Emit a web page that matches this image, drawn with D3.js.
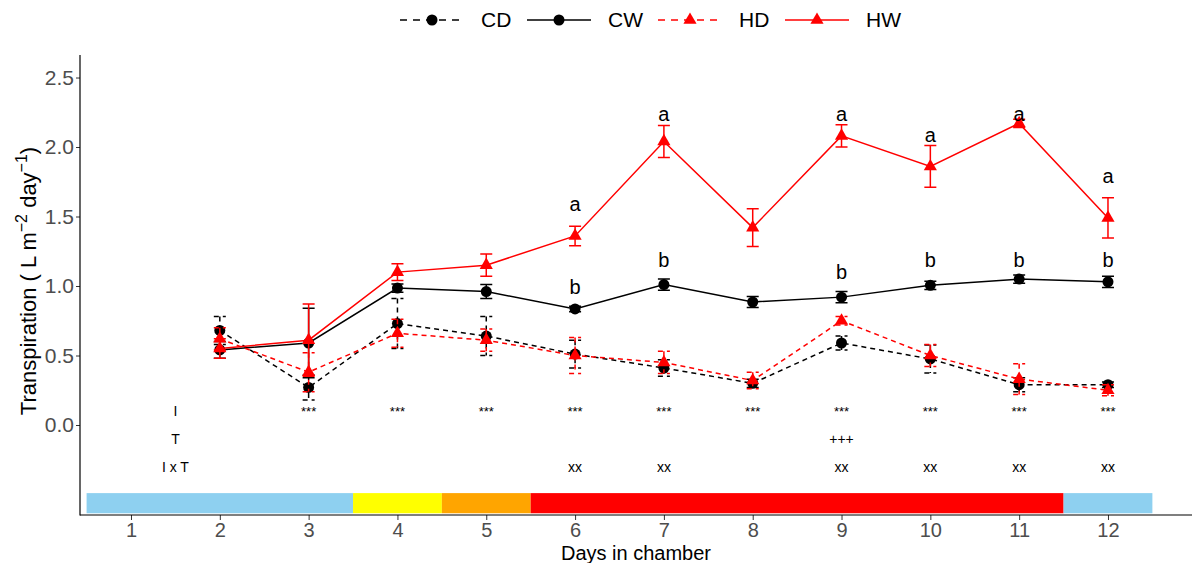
<!DOCTYPE html>
<html><head><meta charset="utf-8">
<script src="https://cdn.jsdelivr.net/npm/d3@7"></script>
<style>body{margin:0;background:#fff}svg{display:block;font-family:"Liberation Sans",Arial,sans-serif}</style>
</head><body><svg id="c" width="1194" height="563"></svg>
<script>
const days = [2,3,4,5,6,7,8,9,10,11,12];
const seriesNames = ["CD","CW","HD","HW"];
const CD = [0.68,0.27,0.73,0.64,0.51,0.41,0.30,0.59,0.475,0.29,0.29];
const CDse = [0.10,0.09,0.18,0.14,0.10,0.06,0.03,0.05,0.10,0.05,0.02];
const CW = [0.54,0.59,0.985,0.96,0.835,1.01,0.885,0.92,1.005,1.05,1.03];
const CWse = [0.06,0.25,0.03,0.05,0.02,0.04,0.04,0.04,0.03,0.03,0.04];
const HD = [0.62,0.38,0.66,0.61,0.50,0.45,0.32,0.75,0.50,0.33,0.25];
const HDse = [0.08,0.14,0.10,0.08,0.13,0.08,0.06,0.03,0.08,0.11,0.04];
const HW = [0.55,0.61,1.10,1.15,1.36,2.04,1.42,2.08,1.86,2.17,1.49];
const HWse = [0.07,0.26,0.06,0.08,0.07,0.115,0.135,0.08,0.15,0.03,0.145];
const letterDays = [6,7,9,10,11,12];
const letterA = [1.59,2.24,2.24,2.09,2.24,1.79];
const letterB = [0.99,1.19,1.10,1.19,1.19,1.19];
const sigDays = [3,4,5,6,7,8,9,10,11,12];
const tDays = [9];
const ixtDays = [6,7,9,10,11,12];
const rowLabels = ["I","T","I x T"];
const rowValues = [0.1,-0.1,-0.3];
const phaseStart = [0.5,3.5,4.5,5.5,11.5];
const phaseEnd = [3.5,4.5,5.5,11.5,12.5];
const phaseColors = ["#8ED0F0","#FFFF00","#FFA500","#FF0000","#8ED0F0"];
const yTicks = [0,0.5,1,1.5,2,2.5];
const xTicks = [1,2,3,4,5,6,7,8,9,10,11,12];

const svg = d3.select("#c");
const L=80,R=1192,T=55,B=515;
const x = d3.scaleLinear().domain([0.4258,12.946]).range([L,R]);
const y = d3.scaleLinear().domain([-0.6475,2.662]).range([B,T]);

// phase bar
svg.append("g").selectAll("rect").data(phaseStart).join("rect")
  .attr("x",(d)=>x(d)).attr("width",(d,i)=>x(phaseEnd[i])-x(d))
  .attr("y",y(-0.49)).attr("height",y(-0.635)-y(-0.49))
  .attr("fill",(d,i)=>phaseColors[i]);

const styles = {
  CD:{v:CD,se:CDse,color:"#000",dash:"5,4",shape:"circle"},
  CW:{v:CW,se:CWse,color:"#000",dash:null,shape:"circle"},
  HD:{v:HD,se:HDse,color:"#FF0000",dash:"5,4",shape:"tri"},
  HW:{v:HW,se:HWse,color:"#FF0000",dash:null,shape:"tri"}
};
const line = d3.line().x(d=>x(d[0])).y(d=>y(d[1]));
const triPath = d3.symbol().type(d3.symbolTriangle).size(75)();

seriesNames.forEach(name=>{
  const s = styles[name];
  const g = svg.append("g");
  const pts = days.map((d,i)=>[d,s.v[i],s.se[i]]);
  pts.forEach(p=>{
    const cx=x(p[0]), y1=y(p[1]+p[2]), y2=y(p[1]-p[2]);
    g.append("path").attr("d",`M${cx-6},${y1}H${cx+6}M${cx},${y1}V${y2}M${cx-6},${y2}H${cx+6}`)
      .attr("fill","none").attr("stroke",s.color).attr("stroke-width",1.5)
      .attr("stroke-dasharray",s.dash);
  });
  g.append("path").datum(pts).attr("d",line).attr("fill","none")
    .attr("stroke",s.color).attr("stroke-width",1.5).attr("stroke-dasharray",s.dash);
  pts.forEach(p=>{
    if(s.shape==="circle") g.append("circle").attr("cx",x(p[0])).attr("cy",y(p[1])).attr("r",5.5).attr("fill",s.color);
    else g.append("path").attr("d",triPath).attr("transform",`translate(${x(p[0])},${y(p[1])})`).attr("fill",s.color);
  });
});

// letters
const lg = svg.append("g").attr("font-size",20).attr("text-anchor","middle").attr("fill","#000");
letterDays.forEach((d,i)=>{
  lg.append("text").attr("x",x(d)).attr("y",y(letterA[i])).attr("dy","0.35em").text("a");
  lg.append("text").attr("x",x(d)).attr("y",y(letterB[i])).attr("dy","0.35em").text("b");
});

// significance rows
const sg = svg.append("g").attr("text-anchor","middle").attr("fill","#000");
rowLabels.forEach((t,i)=>{
  sg.append("text").attr("x",x(1.5)).attr("y",y(rowValues[i])).attr("dy","0.35em").attr("font-size",14).text(t);
});
sigDays.forEach(d=>sg.append("text").attr("x",x(d)).attr("y",y(rowValues[0])).attr("dy","0.4em").attr("font-size",13).text("***"));
tDays.forEach(d=>sg.append("text").attr("x",x(d)).attr("y",y(rowValues[1])).attr("dy","0.35em").attr("font-size",14).text("+++"));
ixtDays.forEach(d=>sg.append("text").attr("x",x(d)).attr("y",y(rowValues[2])).attr("dy","0.35em").attr("font-size",14).text("xx"));

// axes
const ax = svg.append("g").attr("transform",`translate(0,${B})`)
  .call(d3.axisBottom(x).tickValues(xTicks).tickFormat(d3.format("d")).tickSize(5).tickPadding(3));
ax.select(".domain").remove();
ax.selectAll("text").attr("font-size",20).attr("fill","#4D4D4D").attr("font-family","Liberation Sans, Arial");
ax.selectAll("line").attr("stroke","#333");
const ay = svg.append("g").attr("transform",`translate(${L},0)`)
  .call(d3.axisLeft(y).tickValues(yTicks).tickFormat(d3.format(".1f")).tickSize(4).tickPadding(2));
ay.select(".domain").remove();
ay.selectAll("text").attr("font-size",21).attr("fill","#4D4D4D").attr("font-family","Liberation Sans, Arial");
ay.selectAll("line").attr("stroke","#333");
svg.append("line").attr("x1",L).attr("x2",L).attr("y1",T).attr("y2",B+0.5).attr("stroke","#000").attr("stroke-width",1.2);
svg.append("line").attr("x1",L).attr("x2",R).attr("y1",B).attr("y2",B).attr("stroke","#000").attr("stroke-width",1.2);

// axis titles
svg.append("text").attr("x",(L+R)/2).attr("y",560).attr("text-anchor","middle").attr("font-size",20).text("Days in chamber");
const yt = svg.append("text").attr("transform",`translate(36,281) rotate(-90)`).attr("text-anchor","middle").attr("font-size",22);
yt.append("tspan").text("Transpiration ( L m");
yt.append("tspan").attr("font-size",16).attr("dy",-9).text("\u22122");
yt.append("tspan").attr("dy",9).text(" day");
yt.append("tspan").attr("font-size",16).attr("dy",-9).text("\u22121");
yt.append("tspan").attr("dy",9).text(")");

// legend
const legX = [400,527,658,785];
const leg = svg.append("g");
seriesNames.forEach((n,i)=>{
  const s = styles[n], x0 = legX[i], ly = 20;
  leg.append("line").attr("x1",x0).attr("x2",x0+64).attr("y1",ly).attr("y2",ly)
    .attr("stroke",s.color).attr("stroke-width",1.5).attr("stroke-dasharray",s.dash?"7,6":null);
  if(s.shape==="circle") leg.append("circle").attr("cx",x0+32).attr("cy",ly).attr("r",5.5).attr("fill",s.color);
  else leg.append("path").attr("d",triPath).attr("transform",`translate(${x0+32},${ly})`).attr("fill",s.color);
  leg.append("text").attr("x",x0+81).attr("y",ly).attr("dy","0.35em").attr("font-size",21).text(n);
});
</script></body></html>
